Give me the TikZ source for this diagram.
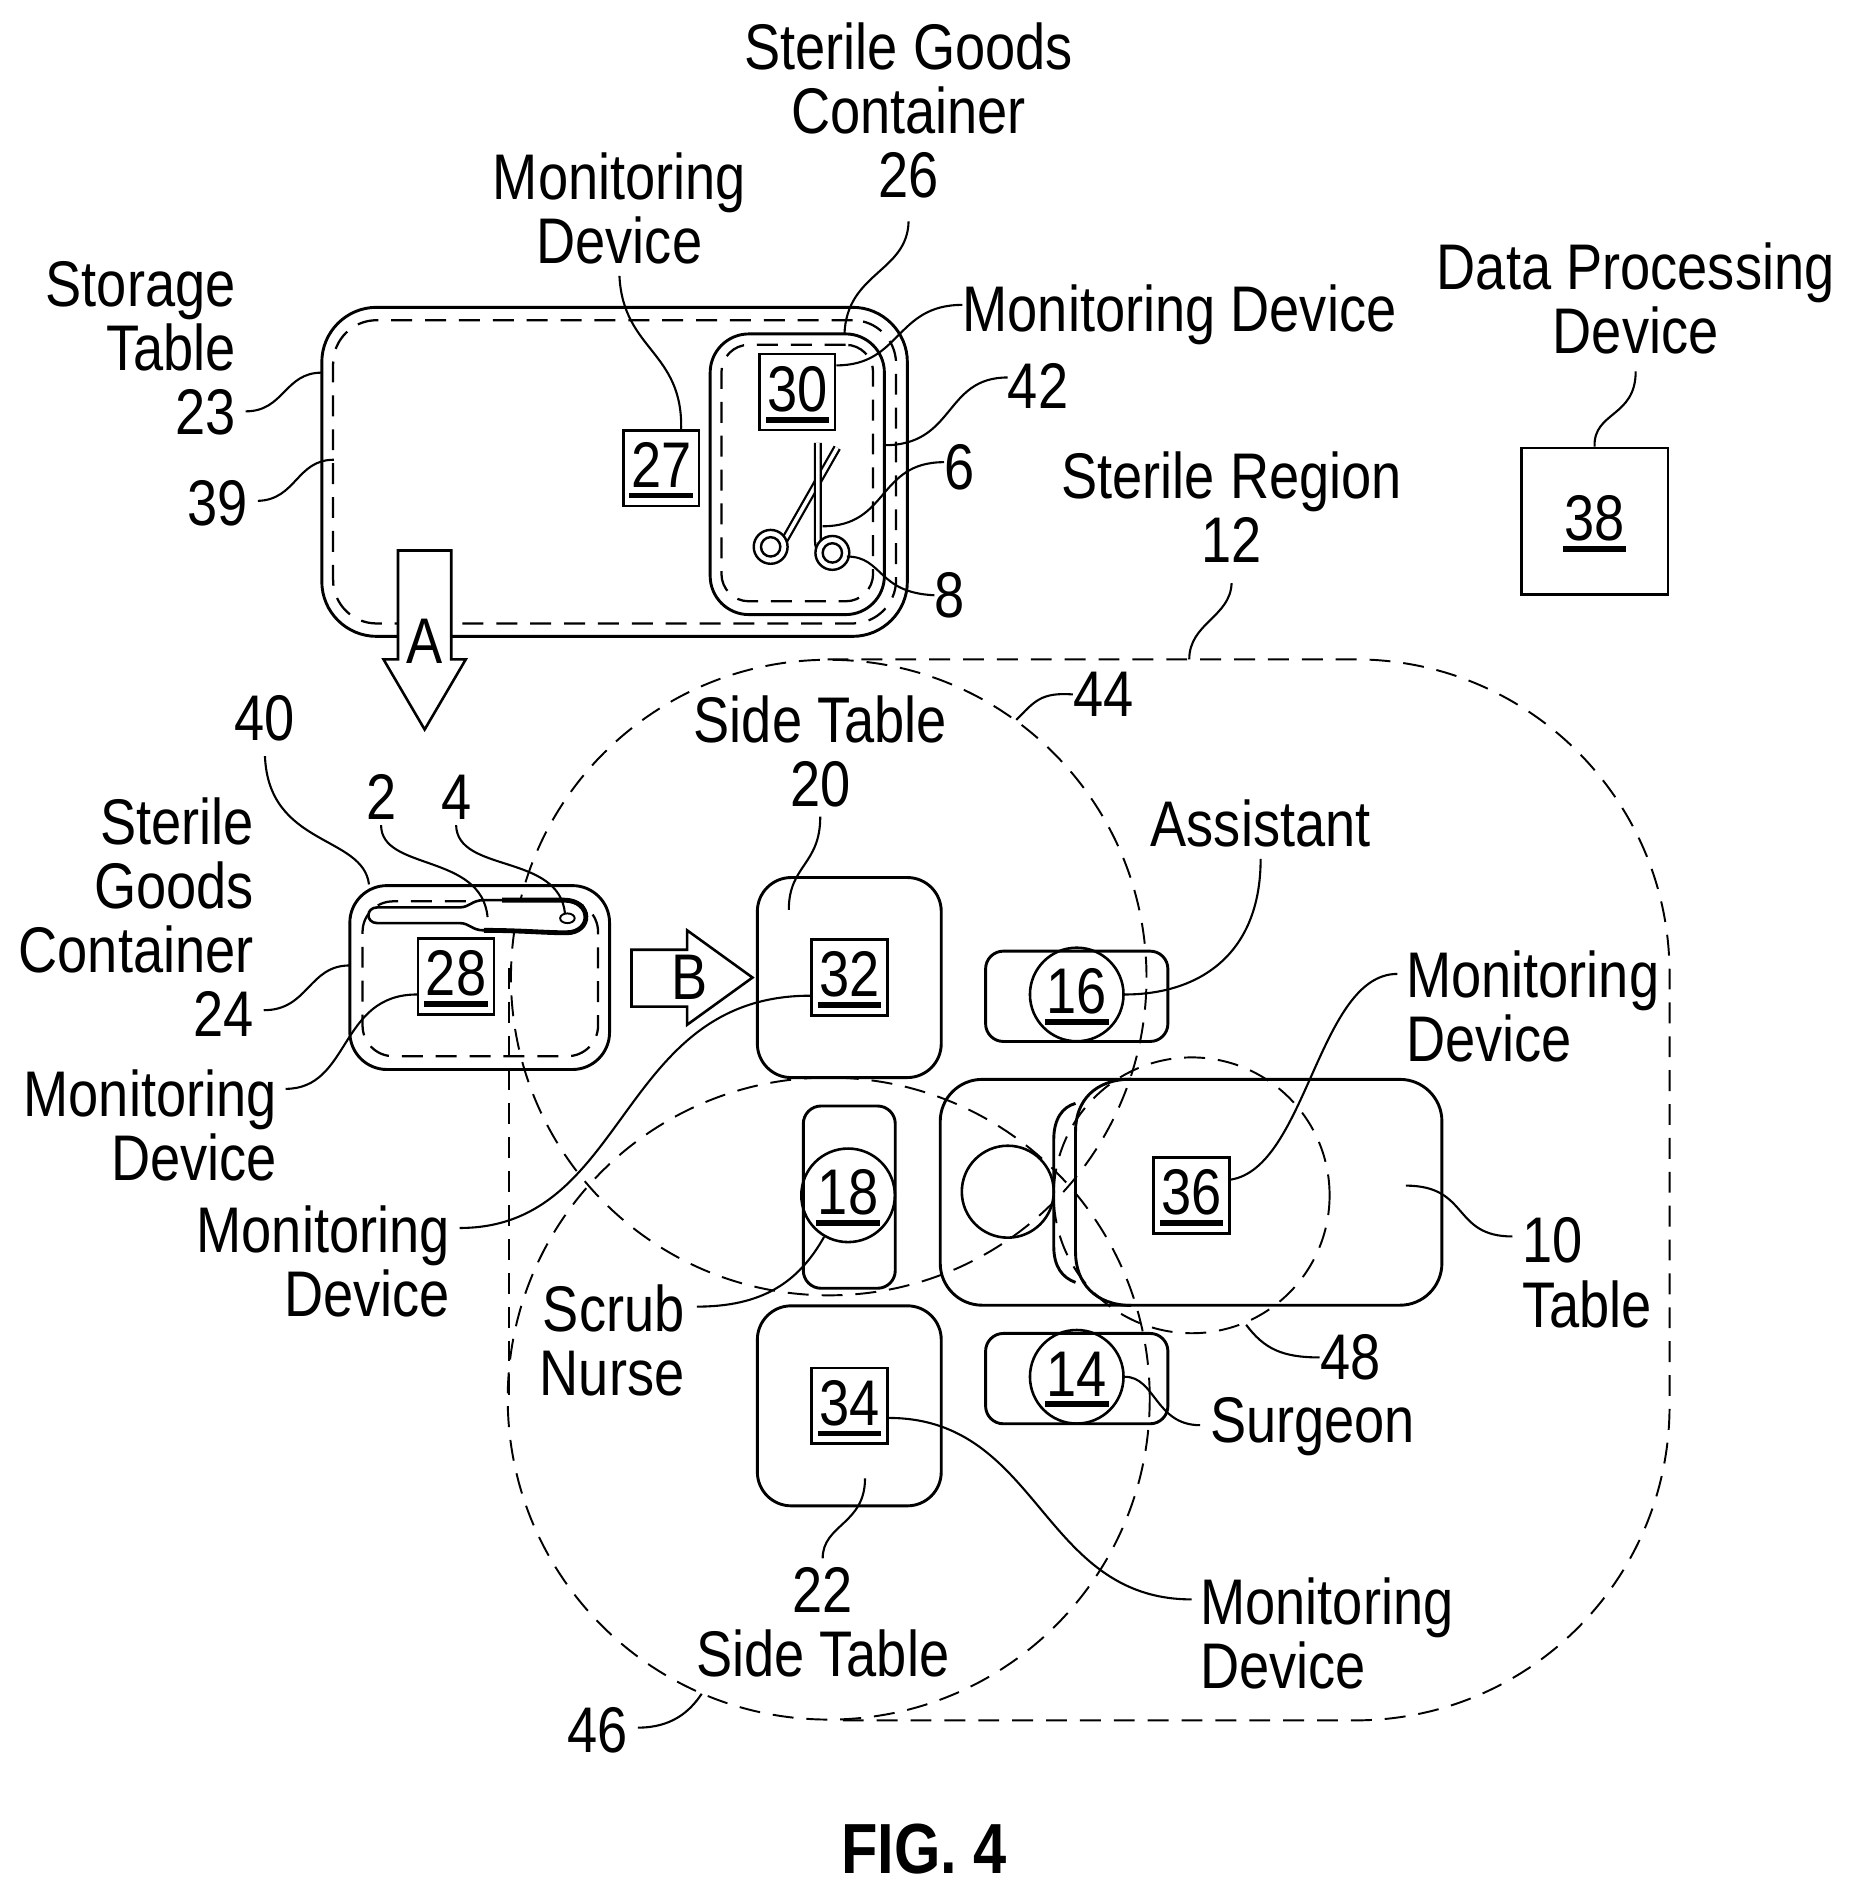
\documentclass[tikz,border=0pt]{standalone}
\usepackage{fontspec}
\setmainfont[FakeStretch=0.84]{Liberation Sans}
\usetikzlibrary{arrows.meta}
\newcommand{\ulnum}[1]{\setbox0\hbox{\kern1pt #1\kern1pt}\vbox{\kern3pt \box0 \kern3pt \hrule height 3.6pt}}
\tikzset{
  lbl/.style={inner sep=0pt,font=\fontsize{40}{39.75}\selectfont},
  tablebox/.style={draw,line width=1.8pt,inner sep=0pt},
  dashbox/.style={draw,line width=1.4pt,dash pattern=on 13pt off 8pt,inner sep=0pt},
  numbox/.style={draw,line width=1.6pt,inner sep=0pt,minimum width=47pt,minimum height=47pt,font=\fontsize{40}{40}\selectfont},
  person/.style={draw,circle,line width=1.6pt,inner sep=0pt,minimum size=58pt,font=\fontsize{40}{40}\selectfont},
  region/.style={line width=1.2pt,dash pattern=on 13pt off 8pt},
  leader/.style={line width=1.3pt},
  blockarrow/.style={line width=1.6pt,fill=white,line join=miter},
  tool/.style={line width=1.4pt,double,double distance=2.2pt}
}
\begin{document}
\begin{tikzpicture}[x=0.75pt,y=0.75pt,yscale=-1,xscale=1]
\useasboundingbox (0,0) rectangle (1532,1568);

%storage table and its container
\node[tablebox,minimum width=363pt,minimum height=204pt,rounded corners=34pt] (table23) at (508,390) {};
\node[dashbox,minimum width=349pt,minimum height=188pt,rounded corners=27pt] (zone39) at (508,390) {};
\node[tablebox,minimum width=108pt,minimum height=174pt,rounded corners=24pt] (cont26) at (659,392) {};
\node[dashbox,minimum width=94pt,minimum height=159pt,rounded corners=17pt] (zone42) at (659,391) {};
\node[numbox] (box27) at (546.5,387) {\ulnum{27}};
\node[numbox] (box30) at (659,324) {\ulnum{30}};

%scissors
\draw[tool] (647,449) -- (692,370);
\draw[tool] (676,366) -- (676,446) .. controls (676,452) and (678,456) .. (680,460);
\draw[line width=1.5pt,fill=white] (637,452) circle (14);
\draw[line width=1.5pt] (637,452) circle (8);
\draw[line width=1.5pt,fill=white] (688,457) circle (14);
\draw[line width=1.5pt] (688,457) circle (8);

%arrow A
\draw[blockarrow] (329,455) -- (373,455) -- (373,545) -- (385,545) -- (351,603) -- (317,545) -- (329,545) -- cycle;
\node[lbl] (arrowA) at (351,530) {A};

%sterile region and the circles
\draw[region] (684,545) -- (1120,545) arc (-90:0:260) -- (1380,1162) arc (0:90:260) -- (690,1422);
\draw[region] (421,800) -- (421,1160);
\node[draw,circle,region,minimum size=394pt,inner sep=0pt] (circle44) at (685,808) {};
\node[draw,circle,region,minimum size=398pt,inner sep=0pt] (circle46) at (685,1156) {};
\node[draw,circle,region,minimum size=171pt,inner sep=0pt] (circle48) at (985,988) {};

%container with the instrument
\node[tablebox,minimum width=161pt,minimum height=114pt,rounded corners=23pt] (cont24) at (396.5,808) {};
\node[dashbox,minimum width=146pt,minimum height=96pt,rounded corners=19pt] (zone40) at (397,809) {};
\draw[line width=1.6pt,fill=white] (312,750) -- (380,750) .. controls (388,750) and (390,744) .. (400,744) -- (468,744) .. controls (490,744) and (490,770) .. (470,771) .. controls (450,771) and (430,769) .. (400,769) .. controls (390,769) and (388,763) .. (380,763) -- (312,763) .. controls (302,763) and (302,750) .. (312,750) -- cycle;
\draw[line width=3pt] (415,744) -- (466,744) .. controls (490,744) and (490,771) .. (468,771) .. controls (450,771) and (430,769) .. (400,769);
\draw[line width=1.2pt] (469,759) ellipse (6 and 4);
\node[numbox] (box28) at (377,807) {\ulnum{28}};

%arrow B
\draw[blockarrow] (522,785) -- (568,785) -- (568,769) -- (622,808) -- (568,847) -- (568,832) -- (522,832) -- cycle;
\node[lbl] (arrowB) at (570,808) {B};

%side tables
\node[tablebox,minimum width=114pt,minimum height=124pt,rounded corners=21pt] (side20) at (702,808) {};
\node[tablebox,minimum width=114pt,minimum height=124pt,rounded corners=21pt] (side22) at (702,1162) {};
\node[numbox] (box32) at (702,808) {\ulnum{32}};
\node[numbox] (box34) at (702,1162) {\ulnum{34}};

%people
\node[tablebox,minimum width=113pt,minimum height=56pt,rounded corners=11pt] (spot16) at (890,823.5) {};
\node[tablebox,minimum width=113pt,minimum height=56pt,rounded corners=11pt] (spot14) at (890,1139.5) {};
\node[tablebox,minimum width=57pt,minimum height=113pt,rounded corners=11pt] (spot18) at (702,989.5) {};
\node[person] (pers16) at (890,822) {\ulnum{16}};
\node[person] (pers14) at (890,1138) {\ulnum{14}};
\node[person] (pers18) at (701,988) {\ulnum{18}};

%patient table
\node[tablebox,minimum width=311pt,minimum height=140pt,rounded corners=26pt] (table10) at (984.5,985.5) {};
\draw[tablebox] (935,892) .. controls (905,892) and (889,910) .. (889,935) -- (889,1035) .. controls (889,1060) and (905,1079) .. (935,1079);
\draw[tablebox] (889,912) .. controls (878,915) and (871,925) .. (871,942) -- (871,1030) .. controls (871,1047) and (878,1056) .. (889,1060);
\node[draw,circle,line width=1.6pt,minimum size=57pt,inner sep=0pt] (head) at (833,985) {};
\node[numbox] (box36) at (985,988) {\ulnum{36}};

%data processing
\node[tablebox,minimum size=91pt,font=\fontsize{40}{40}\selectfont] (box38) at (1318,431) {\ulnum{38}};

%labels
\node[lbl,align=center] (lbl26) at (751,91) {Sterile Goods\\Container\\26};
\node[lbl,align=center] (lbl27) at (512,172) {Monitoring\\Device};
\node[lbl,align=right,anchor=east] (lbl23) at (195,288) {Storage\\Table\\23};
\node[lbl] (lbl39) at (180,416) {39};
\node[lbl] (lbl30) at (975,260) {Monitoring Device};
\node[lbl] (lbl42) at (858,319) {42};
\node[lbl] (lbl6) at (793,386) {6};
\node[lbl] (lbl8) at (785,492) {8};
\node[lbl,align=center] (lbl38) at (1352,247) {Data Processing\\Device};
\node[lbl,align=center] (lbl12) at (1018,419) {Sterile Region\\12};
\node[lbl] (lbl44) at (912,574) {44};
\node[lbl,align=center] (lbl20) at (678,621) {Side Table\\20};
\node[lbl] (lblAsst) at (1042,681) {Assistant};
\node[lbl] (lbl40) at (219,594) {40};
\node[lbl] (lbl2) at (315,659) {2};
\node[lbl] (lbl4) at (377,659) {4};
\node[lbl,align=right,anchor=east] (lbl24) at (210,758) {Sterile\\Goods\\Container\\24};
\node[lbl,align=right,anchor=east] (lbl28) at (229,930) {Monitoring\\Device};
\node[lbl,align=right,anchor=east] (lbl32) at (372,1043) {Monitoring\\Device};
\node[lbl,align=right,anchor=east] (lblNurse) at (566,1108) {Scrub\\Nurse};
\node[lbl,align=left,anchor=west] (lbl36) at (1162,832) {Monitoring\\Device};
\node[lbl,align=left,anchor=west] (lbl10) at (1258,1052) {10\\Table};
\node[lbl] (lbl48) at (1116,1122) {48};
\node[lbl] (lblSurgeon) at (1085,1179) {Surgeon};
\node[lbl,align=left,anchor=west] (lbl34) at (992,1350) {Monitoring\\Device};
\node[lbl,align=center] (lbl22) at (680,1341) {22\\Side Table};
\node[lbl] (lbl46) at (494,1430) {46};
\node[inner sep=0pt,font=\fontsize{44}{44}\selectfont\bfseries] (fig) at (764,1528) {FIG. 4};

%leaders
\coordinate (end23) at (266,308);
\coordinate (end39) at (276,380);
\coordinate (end26) at (698,276);
\coordinate (end42) at (731,368);
\coordinate (end6) at (680,435);
\coordinate (end8) at (700,460);
\coordinate (end12) at (983,545);
\coordinate (end44) at (840,595);
\coordinate (end20) at (652,752);
\coordinate (end40) at (305,731);
\coordinate (end2) at (403,758);
\coordinate (end4) at (467,755);
\coordinate (end24) at (289,798);
\coordinate (end10) at (1162,980);
\coordinate (end48) at (1030,1095);
\coordinate (end22) at (715,1222);
\coordinate (end46) at (580,1400);
\draw[leader] (lbl26.south |- 0,183) .. controls (750,225) and (700,225) .. (end26);
\draw[leader] (lbl27.south |- 0,228) .. controls (515,290) and (565,290) .. (563,356);
\draw[leader] (lbl23.east |- 0,340) ++(8,0) .. controls (235,340) and (235,308) .. (end23);
\draw[leader] (lbl39.east) ++(8,-2) .. controls (245,413) and (245,380) .. (end39);
\draw[leader] (box30.east |- 0,302) .. controls (745,302) and (740,252) .. (lbl30.west |- 0,252);
\draw[leader] (end42) .. controls (790,368) and (780,312) .. (lbl42.west |- 0,312);
\draw[leader] (end6) .. controls (735,435) and (725,382) .. (lbl6.west |- 0,382);
\draw[leader] (end8) .. controls (730,460) and (725,490) .. (lbl8.west);
\draw[leader] (lbl38.south |- 0,307) .. controls (1352,345) and (1317,340) .. (box38.north);
\draw[leader] (lbl12.south |- 0,482) .. controls (1017,510) and (983,515) .. (end12);
\draw[leader] (lbl44.west) .. controls (860,572) and (855,580) .. (end44);
\draw[leader] (lbl20.south |- 0,675) .. controls (678,715) and (652,715) .. (end20);
\draw[leader] (lblAsst.south |- 0,710) .. controls (1042,790) and (990,822) .. (pers16.east);
\draw[leader] (lbl40.south |- 0,625) .. controls (222,700) and (300,690) .. (end40);
\draw[leader] (lbl2.south |- 0,682) .. controls (315,720) and (398,705) .. (end2);
\draw[leader] (lbl4.south |- 0,682) .. controls (378,722) and (462,705) .. (end4);
\draw[leader] (218,835) .. controls (255,835) and (255,798) .. (end24);
\draw[leader] (236,900) .. controls (290,900) and (280,822) .. (box28.west |- 0,822);
\draw[leader] (380,1015) .. controls (520,1015) and (510,823) .. (box32.west |- 0,823);
\draw[leader] (576,1080) .. controls (630,1080) and (660,1060) .. (pers18.240);
\draw[leader] (box36.east |- 0,975) .. controls (1080,965) and (1090,805) .. (1155,805);
\draw[leader] (end10) .. controls (1215,980) and (1200,1022) .. (1250,1022);
\draw[leader] (end48) .. controls (1045,1115) and (1060,1122) .. (lbl48.west);
\draw[leader] (pers14.east) .. controls (955,1138) and (955,1178) .. (992,1178);
\draw[leader] (box34.east |- 0,1172) .. controls (860,1172) and (860,1322) .. (985,1322);
\draw[leader] (lbl22.north |- 0,1288) .. controls (680,1260) and (715,1260) .. (end22);
\draw[leader] (lbl46.east) ++(8,-2) .. controls (555,1428) and (570,1415) .. (end46);
\end{tikzpicture}
\end{document}
